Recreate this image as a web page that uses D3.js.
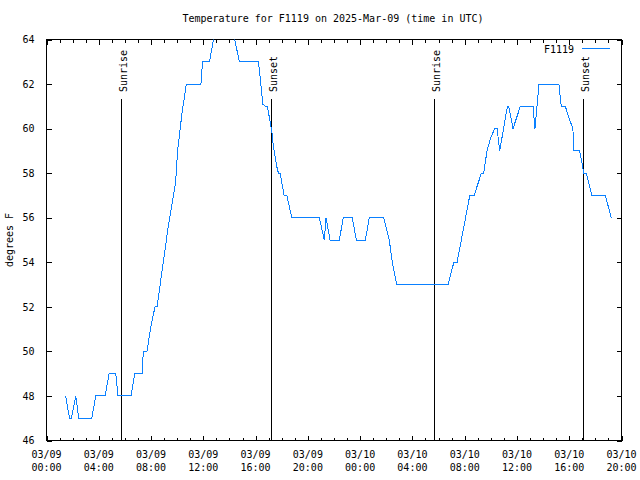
<!DOCTYPE html>
<html>
<head>
<meta charset="utf-8">
<script src="https://cdn.jsdelivr.net/npm/d3@7"></script>
<style>
  body { margin: 0; background: #fff; }
  svg { display: block; font-family: "DejaVu Sans Mono", "Liberation Mono", monospace; font-size: 10px; }
</style>
</head>
<body>
<svg id="chart" width="640" height="480"></svg>
<script>
// hours after 2025-03-09 00:00 UTC, and temperature in degrees F
const sampleHours = [
  1.47, 1.76, 1.91, 2.24, 2.47, 3.46, 3.77, 4.48, 4.79, 5.30, 5.47, 6.47, 6.75, 7.31, 7.41, 7.69,
  7.95, 8.30, 8.46, 9.34, 9.88, 10.03, 10.37, 10.70, 11.82, 11.94, 12.47, 12.78, 13.05, 14.05, 14.40,
  14.76, 16.22, 16.35, 16.55, 16.73, 16.90, 17.24, 17.36, 17.62, 17.75, 17.88, 18.18, 18.39, 18.77,
  20.88, 21.26, 21.39, 21.70, 22.41, 22.71, 23.40, 23.71, 24.40, 24.70, 25.80, 26.23, 26.41, 26.59,
  26.80, 30.73, 31.17, 31.42, 32.39, 32.72, 33.28, 33.45, 33.71, 34.00, 34.30, 34.48, 34.68, 35.27,
  35.37, 35.70, 36.26, 37.23, 37.38, 37.53, 37.69, 39.21, 39.39, 39.70, 40.03, 40.28, 40.36, 40.80,
  41.12, 41.30, 41.74, 42.76, 43.22
];
const sampleTemps = [
  48, 47, 47, 48, 47, 47, 48, 48, 49, 49, 48, 48, 49, 49, 50, 50,
  51, 52, 52, 55.7, 57.6, 59, 60.7, 62, 62, 63, 63, 64, 65, 65, 64,
  63, 63, 62.3, 61.1, 61, 61, 59.9, 59.2, 58.3, 58, 58, 57, 57, 56,
  56, 55, 56, 55, 55, 56, 56, 55, 55, 56, 56, 55, 54.2, 53.6,
  53, 53, 54, 54, 57, 57, 58, 58, 59, 59.6, 60, 60, 59, 61,
  61, 60, 61, 61, 60, 61, 62, 62, 61, 61, 60.4, 60, 59, 59,
  58, 58, 57, 57, 56
];
const eventHours = [5.73, 17.19, 29.66, 41.12];
const eventNames = ["Sunrise", "Sunset", "Sunrise", "Sunset"];
const xTickHours = [0, 4, 8, 12, 16, 20, 24, 28, 32, 36, 40, 44];
const yTicks = [46, 48, 50, 52, 54, 56, 58, 60, 62, 64];
const seriesName = "F1119";
const titleText = "Temperature for F1119 on 2025-Mar-09 (time in UTC)";
const lineColor = "#0a80ff";

const t0 = Date.UTC(2025, 2, 9);
const toDate = h => new Date(t0 + h * 3600e3);

const svg = d3.select("#chart");
const plot = { left: 46.5, right: 621.5, top: 39.5, bottom: 440.5 };

const x = d3.scaleUtc()
  .domain([toDate(0), toDate(44)])
  .range([plot.left, plot.right]);
const y = d3.scaleLinear()
  .domain([46, 64])
  .range([plot.bottom, plot.top]);

const data = sampleHours.map((h, i) => ({ date: toDate(h), temp: sampleTemps[i] }));

// title + y label
svg.append("text")
  .attr("x", 333).attr("y", 22)
  .attr("text-anchor", "middle")
  .text(titleText);

svg.append("text")
  .attr("transform", "translate(13,240) rotate(-90)")
  .attr("text-anchor", "middle")
  .text("degrees F");

// minor ticks (hourly) bottom + top
const hours = d3.range(0, 45).map(toDate);
svg.append("g")
  .attr("transform", `translate(0,${plot.bottom})`)
  .call(d3.axisBottom(x).tickValues(hours).tickSizeInner(-3).tickSizeOuter(0).tickFormat(""));
svg.append("g")
  .attr("transform", `translate(0,${plot.top})`)
  .call(d3.axisTop(x).tickValues(hours).tickSizeInner(-3).tickSizeOuter(0).tickFormat(""));

// major ticks
svg.append("g")
  .attr("transform", `translate(0,${plot.bottom})`)
  .call(d3.axisBottom(x).tickValues(xTickHours.map(toDate)).tickSizeInner(-5).tickSizeOuter(0).tickFormat(""));
svg.append("g")
  .attr("transform", `translate(0,${plot.top})`)
  .call(d3.axisTop(x).tickValues(xTickHours.map(toDate)).tickSizeInner(-5).tickSizeOuter(0).tickFormat(""));

// y ticks left + right
svg.append("g")
  .attr("class", "yaxis")
  .attr("transform", `translate(${plot.left},0)`)
  .call(d3.axisLeft(y).tickValues(yTicks).tickSizeInner(-5).tickSizeOuter(0).tickPadding(12));
svg.append("g")
  .attr("transform", `translate(${plot.right},0)`)
  .call(d3.axisRight(y).tickValues(yTicks).tickSizeInner(-5).tickSizeOuter(0).tickFormat(""));

svg.selectAll(".domain").remove();
svg.selectAll(".tick line").attr("stroke", "#000").attr("shape-rendering", "crispEdges");
svg.selectAll(".yaxis text")
  .attr("font-family", "DejaVu Sans Mono, monospace")
  .attr("font-size", 10)
  .attr("fill", "#000");

// two-line x labels
const fmtDay = d3.utcFormat("%m/%d");
const fmtTime = d3.utcFormat("%H:%M");
const xl = svg.append("g");
xTickHours.forEach(h => {
  const d = toDate(h);
  const t = xl.append("text")
    .attr("text-anchor", "middle")
    .attr("x", x(d));
  t.append("tspan").attr("x", x(d)).attr("y", 458).text(fmtDay(d));
  t.append("tspan").attr("x", x(d)).attr("y", 471).text(fmtTime(d));
});

// frame
svg.append("rect")
  .attr("x", plot.left).attr("y", plot.top)
  .attr("width", plot.right - plot.left).attr("height", plot.bottom - plot.top)
  .attr("fill", "none").attr("stroke", "#000")
  .attr("shape-rendering", "crispEdges");

// sunrise / sunset markers
eventHours.forEach((h, i) => {
  const ex = Math.floor(x(toDate(h))) + 0.5;
  svg.append("line")
    .attr("x1", ex).attr("x2", ex)
    .attr("y1", 99).attr("y2", plot.bottom)
    .attr("stroke", "#000")
    .attr("shape-rendering", "crispEdges");
  svg.append("text")
    .attr("transform", `translate(${ex + 5.5},92) rotate(-90)`)
    .attr("text-anchor", "start")
    .text(eventNames[i]);
});

// data line
svg.append("clipPath").attr("id", "plotclip")
  .append("rect")
  .attr("x", plot.left).attr("y", plot.top)
  .attr("width", plot.right - plot.left).attr("height", plot.bottom - plot.top);

const line = d3.line()
  .x(d => x(d.date))
  .y(d => y(d.temp));

svg.append("path")
  .datum(data)
  .attr("clip-path", "url(#plotclip)")
  .attr("fill", "none")
  .attr("stroke", lineColor)
  .attr("stroke-width", 1)
  .attr("shape-rendering", "crispEdges")
  .attr("d", line);

// legend
svg.append("text")
  .attr("x", 574).attr("y", 53)
  .attr("text-anchor", "end")
  .text(seriesName);
svg.append("line")
  .attr("x1", 582).attr("x2", 610)
  .attr("y1", 48.5).attr("y2", 48.5)
  .attr("stroke", lineColor)
  .attr("shape-rendering", "crispEdges");
</script>
</body>
</html>
